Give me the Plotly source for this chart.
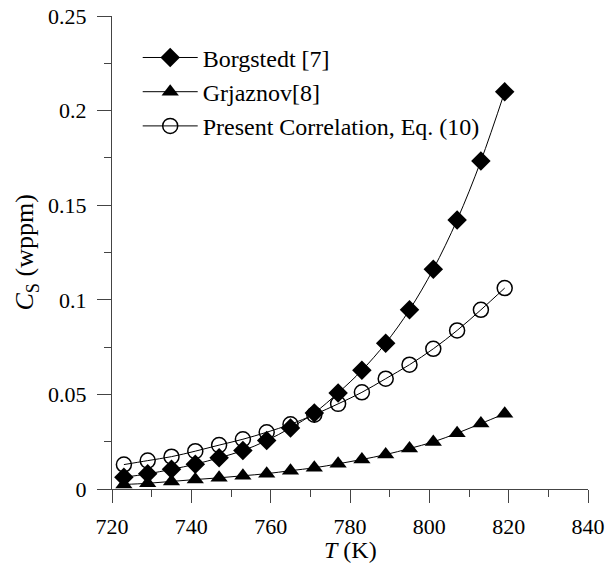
import plotly.graph_objects as go

T = [723, 729, 735, 741, 747, 753, 759, 765, 771, 777, 783, 789, 795, 801, 807, 813, 819]
borgstedt = [0.0062, 0.0080, 0.0104, 0.0131, 0.0165, 0.0203, 0.0256, 0.0323, 0.0402,
             0.0508, 0.0627, 0.0771, 0.0947, 0.1162, 0.1422, 0.1734, 0.2099]
grjaznov = [0.0024, 0.0030, 0.0040, 0.0050, 0.0059, 0.0070, 0.0081, 0.0097, 0.0112,
            0.0133, 0.0156, 0.0182, 0.0214, 0.0249, 0.0295, 0.0346, 0.0398]
present = [0.0129, 0.0150, 0.0171, 0.0200, 0.0232, 0.0263, 0.0300, 0.0342, 0.0393,
           0.0450, 0.0511, 0.0583, 0.0657, 0.0741, 0.0838, 0.0947, 0.1062]

names = ["Borgstedt [7]", "Grjaznov[8]", "Present Correlation, Eq. (10)"]
x_title = "<i>T</i> (K)"
y_title = "<i>C</i><sub>S</sub> (wppm)"

FONT = "Liberation Serif"

fig = go.Figure()
fig.add_trace(go.Scatter(
    x=T, y=borgstedt, name=names[0], mode="lines+markers",
    line=dict(color="black", width=1, shape="spline"),
    marker=dict(symbol="diamond", size=15, color="black"),
))
fig.add_trace(go.Scatter(
    x=T, y=grjaznov, name=names[1], mode="lines+markers",
    line=dict(color="black", width=1, shape="spline"),
    marker=dict(symbol="triangle-up", size=15, color="black"),
))
fig.add_trace(go.Scatter(
    x=T, y=present, name=names[2], mode="lines+markers",
    line=dict(color="black", width=1, shape="spline"),
    marker=dict(symbol="circle-open", size=15, color="black", line=dict(width=1.5)),
))

fig.update_layout(
    width=607, height=563,
    margin=dict(l=112, r=19, t=16, b=74),
    paper_bgcolor="white", plot_bgcolor="white",
    font=dict(family=FONT, size=22, color="black"),
    showlegend=True,
    legend=dict(
        x=0.054, y=0.959, xanchor="left", yanchor="top",
        bgcolor="rgba(0,0,0,0)", font=dict(family=FONT, size=24, color="black"),
        itemwidth=55, tracegroupgap=0,
    ),
    xaxis=dict(
        range=[720, 840], dtick=20, tick0=720, automargin=False,
        showline=True, linecolor="#444", linewidth=1,
        ticks="outside", ticklen=13, tickcolor="#444", tickwidth=1,
        ticklabelstandoff=5,
        minor=dict(dtick=10, ticks="outside", ticklen=7, tickcolor="#444"),
        showgrid=False, zeroline=False,
        tickfont=dict(family=FONT, size=22),
    ),
    yaxis=dict(
        range=[0, 0.25], dtick=0.05, tick0=0, automargin=False,
        showline=True, linecolor="#444", linewidth=1,
        ticks="outside", ticklen=14, tickcolor="#444", tickwidth=1,
        ticklabelstandoff=6,
        minor=dict(dtick=0.025, ticks="outside", ticklen=7, tickcolor="#444"),
        showgrid=False, zeroline=False,
        tickfont=dict(family=FONT, size=22),
    ),
    annotations=[
        dict(text=x_title, xref="paper", yref="paper", x=0.5, y=-0.1298,
             xanchor="center", yanchor="middle", showarrow=False,
             font=dict(family=FONT, size=24, color="black")),
        dict(text=y_title, xref="paper", yref="paper", x=-0.1807, y=0.5,
             xanchor="center", yanchor="middle", textangle=-90, showarrow=False,
             font=dict(family=FONT, size=26, color="black")),
    ],
)

fig.write_html("out.html")
